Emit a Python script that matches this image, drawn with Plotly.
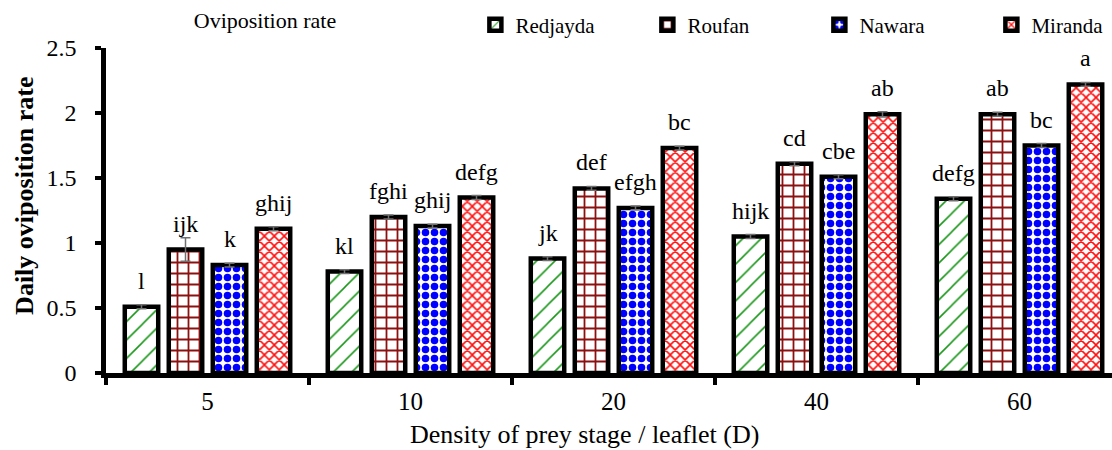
import plotly.graph_objects as go

categories = ["5", "10", "20", "40", "60"]
series_names = ["Redjayda", "Roufan", "Nawara", "Miranda"]
redjayda = [0.51, 0.78, 0.88, 1.05, 1.34]
roufan = [0.95, 1.20, 1.42, 1.61, 1.99]
nawara = [0.83, 1.13, 1.27, 1.51, 1.75]
miranda = [1.11, 1.35, 1.73, 1.99, 2.22]
err_redjayda = [0.015, 0.015, 0.015, 0.015, 0.015]
err_roufan = [0.09, 0.015, 0.015, 0.015, 0.015]
err_nawara = [0.015, 0.015, 0.015, 0.015, 0.015]
err_miranda = [0.015, 0.015, 0.015, 0.02, 0.015]
letters_redjayda = ["l", "kl", "jk", "hijk", "defg"]
letters_roufan = ["ijk", "fghi", "def", "cd", "ab"]
letters_nawara = ["k", "ghij", "efgh", "cbe", "bc"]
letters_miranda = ["ghij", "defg", "bc", "ab", "a"]

values = [redjayda, roufan, nawara, miranda]
errors = [err_redjayda, err_roufan, err_nawara, err_miranda]
letters = [letters_redjayda, letters_roufan, letters_nawara, letters_miranda]

FONT = "Liberation Serif, Times New Roman, serif"
patterns = [
    dict(shape="/", fgcolor="#1a961a", bgcolor="white", size=13, solidity=0.12, fgopacity=1),
    dict(shape="+", fgcolor="#8b1010", bgcolor="white", size=11, solidity=0.3, fgopacity=1),
    dict(shape=".", fgcolor="#0000ff", bgcolor="white", size=9, solidity=0.55, fgopacity=1),
    dict(shape="x", fgcolor="#ff1010", bgcolor="white", size=7, solidity=0.4, fgopacity=1),
]

BARGAP = 0.133
fig = go.Figure()
for name, vals, errs, pat in zip(series_names, values, errors, patterns):
    fig.add_trace(go.Bar(
        name=name, x=categories, y=vals,
        marker=dict(color="white", pattern=pat, line=dict(color="black", width=4.5)),
        error_y=dict(type="data", array=errs, visible=True, color="#707070",
                     thickness=1.5, width=5),
    ))

slot = (1 - BARGAP) / 4
for i, (vals, errs, labs) in enumerate(zip(values, errors, letters)):
    off = -(1 - BARGAP) / 2 + slot * (i + 0.5)
    for j, (v, lab) in enumerate(zip(vals, labs)):
        fig.add_annotation(x=j + off, y=v, text=lab, showarrow=False,
                           xref="x", yref="y", yanchor="bottom", yshift=11,
                           font=dict(family=FONT, size=24, color="black"))

fig.add_annotation(text="Density of prey stage / leaflet (D)", xref="paper", yref="paper",
                   x=0.476, y=-0.1877, yanchor="middle", xanchor="center", showarrow=False,
                   font=dict(family=FONT, size=26, color="black"))
fig.add_annotation(text="<b>Daily oviposition rate</b>", xref="paper", yref="paper",
                   x=-0.0805, y=0.545, xanchor="center", yanchor="middle", textangle=-90,
                   showarrow=False, font=dict(family=FONT, size=26, color="black"))

fig.update_layout(
    width=1112, height=450,
    margin=dict(l=106, r=0, t=48, b=77, autoexpand=False),
    paper_bgcolor="white", plot_bgcolor="white",
    barmode="group", bargap=BARGAP, bargroupgap=0.24,
    font=dict(family=FONT, size=22, color="black"),
    title=dict(text="Oviposition rate", xref="container", x=265 / 1112, xanchor="center",
               yref="container", y=0.955, yanchor="middle",
               font=dict(family=FONT, size=22, color="black")),
    legend=dict(orientation="h", xref="container", x=0.4275, yref="container", y=0.99,
                yanchor="top", xanchor="left", entrywidth=127, entrywidthmode="pixels",
                font=dict(family=FONT, size=21, color="black"), itemwidth=30,
                bgcolor="rgba(0,0,0,0)"),
    showlegend=True,
)
fig.update_xaxes(type="category", range=[-0.5, -0.5 + 1006 / 203], tickson="boundaries",
                 ticks="outside", ticklen=7, tickwidth=4, tickcolor="black",
                 showline=True, linecolor="black", linewidth=4.5, showgrid=False,
                 tickfont=dict(family=FONT, size=25), zeroline=False, ticklabelstandoff=2)
fig.update_yaxes(range=[0, 2.5], dtick=0.5, ticks="outside", ticklen=6, tickwidth=4,
                 tickcolor="black", showline=True, linecolor="black", linewidth=4.5,
                 showgrid=False, zeroline=False, tickfont=dict(family=FONT, size=24),
                 ticklabelstandoff=14)

fig.write_html("out.html")
